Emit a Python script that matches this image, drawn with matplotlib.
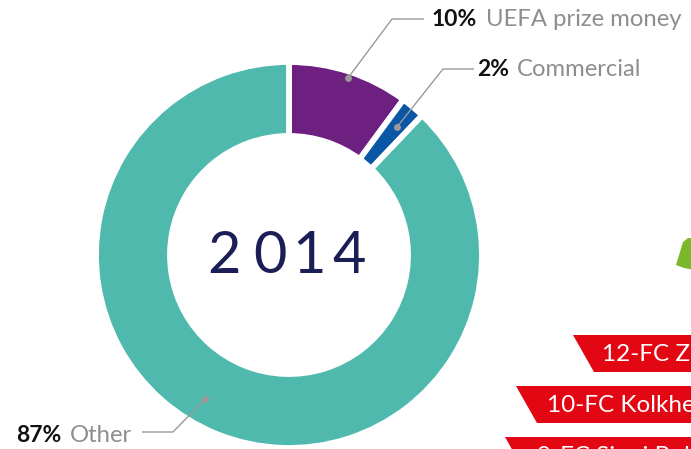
import matplotlib.pyplot as plt
from matplotlib.patches import Polygon

# revenue split, clockwise from the top
labels = ["UEFA prize money", "Commercial", "Other"]
shares = [10, 2, 87]
colors = ["#6e2080", "#0a57a6", "#50b9ad"]
year = "2014"

# club ranking banners on the right
banners = ["12-FC Zugdidi", "10-FC Kolkheti Poti", "9-FC Sioni Bolnisi"]

W, H = 691, 449
fig = plt.figure(figsize=(W / 100, H / 100), dpi=100)
ax = fig.add_axes([0, 0, 1, 1])

cx, cy, r_out, r_in = 289, 194, 193, 119
wedges, _ = ax.pie(shares, colors=colors, startangle=90, counterclock=False,
                   center=(cx, cy), radius=r_out, frame=True,
                   wedgeprops=dict(width=r_out - r_in, edgecolor="white", linewidth=4.2))

# year in the hole, letter-spaced
for ch, x in zip(year, [224, 270, 309, 349]):
    ax.text(x, H - 273, ch, ha="center", va="baseline", fontsize=41.5,
            family="Lato", color="#1b1f56")

font = "Lato"
grey = "#8e8e8e"
line_c = "#9a9a9a"

# leader lines: anchor dot -> elbow -> end of horizontal
leaders = [
    [(348, 78), (392, 19), (424, 19)],
    [(397, 127), (443, 69), (474, 69)],
    [(205, 399), (173, 432), (142, 432)],
]
for pts in leaders:
    xs = [p[0] for p in pts]
    ys = [H - p[1] for p in pts]
    ax.plot(xs, ys, color=line_c, lw=1.0, solid_capstyle="butt")
    ax.plot(xs[0], ys[0], "o", color=line_c, ms=5, mec="none")

# bold share followed by the grey name
fig.canvas.draw()
renderer = fig.canvas.get_renderer()
inv = ax.transData.inverted()
label_pos = [(432, 20), (477, 70), (16, 435)]
for (xb, y), share, name in zip(label_pos, shares, labels):
    t = ax.text(xb, H - y, f"{share}%", ha="left", va="center", fontsize=16.5,
                family=font, weight="bold", color="#111111")
    bb = t.get_window_extent(renderer)
    x_end = inv.transform((bb.x1, bb.y0))[0]
    ax.text(x_end + 6, H - y, name, ha="left", va="center", fontsize=17.2,
            family=font, color=grey)

# red parallelogram banners, running off the right edge
red = "#e30613"
banner_geo = [  # top y, bottom y, left-top x, left-bottom x, text x, baseline y
    (335, 372, 573, 594, 602, 361),
    (386, 423, 516, 537, 547, 412),
    (437, 474, 505, 526, 537, 463),
]
for (yt, yb, xt, xb, xtxt, ybase), txt in zip(banner_geo, banners):
    ax.add_patch(Polygon([(xt, H - yt), (W + 50, H - yt), (W + 50, H - yb), (xb, H - yb)],
                         closed=True, color=red, lw=0))
    ax.text(xtxt, H - ybase, txt, ha="left", va="baseline", fontsize=17.5,
            family=font, color="white", clip_on=True)

# green shape peeking in at the right
green = [(683, 242), (688, 238), (695, 238), (695, 270), (684, 268), (676, 265), (680, 252)]
ax.add_patch(Polygon([(x, H - y) for x, y in green], closed=True, color="#7ab829", lw=0))

ax.set_xlim(0, W)
ax.set_ylim(0, H)
ax.set_aspect("equal")
ax.axis("off")

fig.savefig("out.png", dpi=100)
